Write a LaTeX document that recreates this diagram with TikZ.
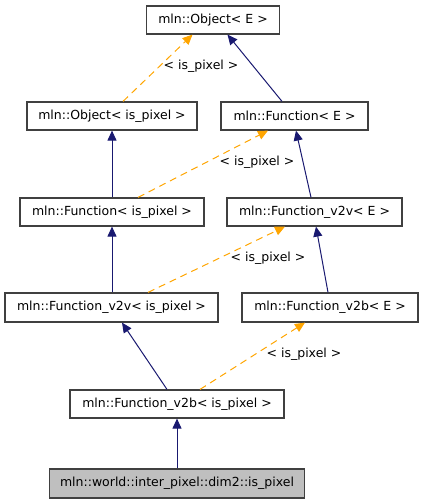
\documentclass[tikz,border=0pt]{standalone}
\usepackage{fontspec}
\setmainfont{DejaVu Sans}
\usetikzlibrary{arrows.meta,calc}
\definecolor{edgeblue}{HTML}{191970}
\definecolor{edgeorange}{HTML}{FFA500}
\definecolor{boxline}{HTML}{404040}
\definecolor{boxgray}{HTML}{BFBFBF}
\begin{document}
\begin{tikzpicture}[x=1pt,y=-1pt,
  cls/.style={draw=boxline,line width=1.2pt,fill=white,inner sep=0pt,
    font=\fontsize{12.5}{15}\selectfont},
  inh/.style={draw=edgeblue,line width=1pt,-{Triangle[length=10pt,width=9pt]}},
  tpl/.style={draw=edgeorange,line width=1pt,dash pattern=on 7pt off 5pt,
    -{Triangle[length=10pt,width=9pt]}},
  lbl/.style={font=\fontsize{12.5}{15}\selectfont,inner sep=0pt}]
\useasboundingbox (0,0) rectangle (424,504);
\node[cls,minimum width=133pt,minimum height=28pt] (objE) at (213,20) {mln::Object< E >};
\node[cls,minimum width=170pt,minimum height=28pt] (objP) at (112,116) {mln::Object< is\_pixel >};
\node[cls,minimum width=147pt,minimum height=28pt] (funE) at (294.5,116) {mln::Function< E >};
\node[cls,minimum width=184pt,minimum height=28pt] (funP) at (112,212) {mln::Function< is\_pixel >};
\node[cls,minimum width=175pt,minimum height=28pt] (vvE) at (314.5,212) {mln::Function\_v2v< E >};
\node[cls,minimum width=213pt,minimum height=29pt] (vvP) at (111.5,307.5) {mln::Function\_v2v< is\_pixel >};
\node[cls,minimum width=176pt,minimum height=29pt] (vbE) at (330,307.5) {mln::Function\_v2b< E >};
\node[cls,minimum width=214pt,minimum height=28pt] (vbP) at (177,404) {mln::Function\_v2b< is\_pixel >};
\node[cls,fill=boxgray,minimum width=255pt,minimum height=29pt] (pix) at (177,483.5) {mln::world::inter\_pixel::dim2::is\_pixel};

\draw[tpl] ([xshift=11pt]objP.north) -- ([xshift=-20.5pt]objE.south);
\node[lbl] (l1) at (201,66) {< is\_pixel >};
\draw[inh] ([xshift=-12.5pt]funE.north) -- ([xshift=14.5pt]objE.south);
\draw[inh] (funP.north) -- (objP.south);
\draw[tpl] ([xshift=26pt]funP.north) -- ([xshift=-26.5pt]funE.south);
\node[lbl] (l2) at (257,162) {< is\_pixel >};
\draw[inh] ([xshift=-3.5pt]vvE.north) -- ([xshift=1.5pt]funE.south);
\draw[inh] ([xshift=0.5pt]vvP.north) -- (funP.south);
\draw[tpl] ([xshift=36.5pt]vvP.north) -- ([xshift=-29.5pt]vvE.south);
\draw[inh] ([xshift=-2pt]vbE.north) -- ([xshift=1.5pt]vvE.south);
\node[lbl] (l3) at (268,258) {< is\_pixel >};
\draw[inh] ([xshift=-10pt]vbP.north) -- ([xshift=10.5pt]vvP.south);
\draw[tpl] ([xshift=23pt]vbP.north) -- ([xshift=-25pt]vbE.south);
\node[lbl] (l4) at (304,354) {< is\_pixel >};
\draw[inh] (pix.north) -- (vbP.south);
\end{tikzpicture}
\end{document}
